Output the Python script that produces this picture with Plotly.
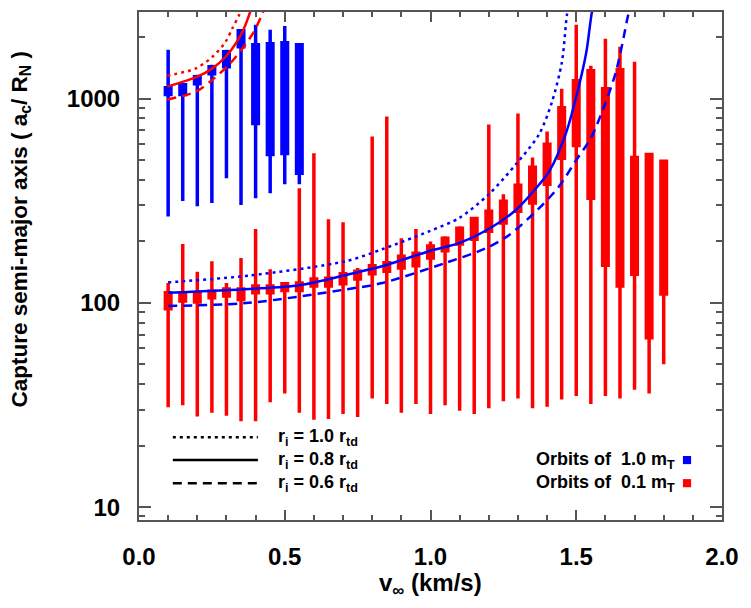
import plotly.graph_objects as go

# ---------------- data ----------------
# Orbits of 1.0 m_T (blue boxes)
blue_x = [0.10, 0.15, 0.20, 0.25, 0.30, 0.35, 0.40, 0.45, 0.50, 0.55]
blue_lo = [265, 315, 297, 308, 407, 301, 325, 344, 381, 381]
blue_q1 = [1046, 1046, 1183, 1324, 1433, 1794, 755, 533, 539, 431]
blue_q3 = [1131, 1170, 1280, 1433, 1694, 2150, 1834, 1855, 1877, 1834]
blue_hi = [1734, 1180, 1310, 1465, 1734, 2173, 2296, 2173, 2270, 1834]

# Orbits of 0.1 m_T (red boxes)
red_x = [0.10, 0.15, 0.20, 0.25, 0.30, 0.35, 0.40, 0.45, 0.50, 0.55,
         0.60, 0.65, 0.70, 0.75, 0.80, 0.85, 0.90, 0.95, 1.00, 1.05,
         1.10, 1.15, 1.20, 1.25, 1.30, 1.35, 1.40, 1.45, 1.50, 1.55,
         1.60, 1.65, 1.70, 1.75, 1.80]
red_hi = [125, 194, 142, 160, 125, 166, 230, 146, 125, 364,
          540, 257, 248, 148, 653, 817, 207, 230, 200, 212,
          237, 262, 747, 340, 845, 515, 690, 1119, 2297, 1450,
          1963, 1795, 1515, 533, 493]
red_q3 = [112, 112, 112, 114, 117, 117, 121, 121, 124, 125,
          131, 132, 139, 143, 152, 157, 169, 175, 190, 207,
          232, 259, 281, 314, 377, 461, 597, 903, 1224, 1370,
          1119, 1385, 515, 533, 493]
red_q1 = [93.5, 102, 101, 106, 108, 104, 112, 112, 115, 115,
          121, 121, 124, 131, 139, 143, 148, 152, 166, 180,
          194, 205, 224, 246, 281, 308, 381, 510, 590, 325,
          153, 121, 138, 67.5, 110.6]
red_lo = [30.8, 31.5, 27.8, 29, 28, 26.3, 26.3, 32.6, 36, 29,
          26.8, 27, 28.6, 27.6, 34, 32, 29, 32, 28.6, 31.5,
          29.6, 28.6, 30.5, 33, 34, 30.5, 31, 33.6, 35, 32,
          35, 34, 37.6, 36, 50]

# Red curves (upper left)
red_dot_x = [0.097, 0.195, 0.252, 0.297, 0.320, 0.343, 0.352]
red_dot_y = [1295, 1406, 1603, 1896, 2203, 2560, 2800]
red_sol_x = [0.097, 0.200, 0.252, 0.297, 0.332, 0.360, 0.385]
red_sol_y = [1144, 1280, 1406, 1603, 1862, 2203, 2750]
red_dsh_x = [0.097, 0.195, 0.252, 0.309, 0.354, 0.394, 0.423, 0.432]
red_dsh_y = [989, 1081, 1238, 1466, 1755, 2122, 2600, 2800]

# Blue curves
blue_dot_x = [0.10, 0.377, 0.71, 0.834, 0.995, 1.098, 1.20, 1.293, 1.372, 1.417, 1.451, 1.468, 1.474]
blue_dot_y = [126, 136, 160, 183, 224, 260, 340, 477, 667, 966, 1514, 2570, 2800]
blue_sol_x = [0.10, 0.38, 0.55, 0.72, 0.834, 0.995, 1.098, 1.20, 1.293, 1.348, 1.407, 1.465, 1.509, 1.535, 1.554, 1.56]
blue_sol_y = [112, 117, 122, 138, 151, 179, 196, 230, 285, 345, 440, 680, 1150, 1700, 2655, 2800]
blue_dsh_x = [0.10, 0.377, 0.72, 0.834, 1.052, 1.19, 1.27, 1.372, 1.44, 1.50, 1.55, 1.60, 1.636, 1.658, 1.675, 1.685]
blue_dsh_y = [96.6, 100, 117, 125, 157, 185, 215, 290, 370, 500, 640, 950, 1350, 1850, 2450, 2800]

legend_lines = ["r<sub>i</sub> = 1.0 r<sub>td</sub>",
                "r<sub>i</sub> = 0.8 r<sub>td</sub>",
                "r<sub>i</sub> = 0.6 r<sub>td</sub>"]
legend_orbits = ["Orbits of  1.0 m<sub>T</sub>", "Orbits of  0.1 m<sub>T</sub>"]

y_ticks = [10, 100, 1000]
y_minor = [9] + [k * 10 for k in range(2, 10)] + [k * 100 for k in range(2, 10)] + [2000]

BLUE = "rgb(0,0,255)"
RED = "rgb(255,0,0)"
FONT = "Liberation Sans, Arial, sans-serif"

fig = go.Figure()

fig.add_trace(go.Box(x=blue_x, q1=blue_q1, median=blue_q1, q3=blue_q3,
                     lowerfence=blue_lo, upperfence=blue_hi,
                     width=0.019, whiskerwidth=0, boxpoints=False,
                     line=dict(color=BLUE, width=3.5), fillcolor=BLUE,
                     hoverinfo="skip", showlegend=False))
fig.add_trace(go.Box(x=red_x, q1=red_q1, median=red_q1, q3=red_q3,
                     lowerfence=red_lo, upperfence=red_hi,
                     width=0.019, whiskerwidth=0, boxpoints=False,
                     line=dict(color=RED, width=3.5), fillcolor=RED,
                     hoverinfo="skip", showlegend=False))

DOT = "3px,4px"
DASH = "9px,6px"
for xs, ys, col, dash in [
    (red_dot_x, red_dot_y, RED, DOT),
    (red_sol_x, red_sol_y, RED, "solid"),
    (red_dsh_x, red_dsh_y, RED, DASH),
    (blue_dot_x, blue_dot_y, BLUE, DOT),
    (blue_sol_x, blue_sol_y, BLUE, "solid"),
    (blue_dsh_x, blue_dsh_y, BLUE, DASH),
]:
    fig.add_trace(go.Scatter(x=xs, y=ys, mode="lines",
                             line=dict(color=col, width=2.5, dash=dash, shape="spline", smoothing=0.8),
                             hoverinfo="skip", showlegend=False))

axis_common = dict(showline=True, linecolor="#555555", linewidth=2, mirror="allticks",
                   ticks="inside", tickcolor="#555555", tickwidth=2,
                   showgrid=False, zeroline=False,
                   tickfont=dict(family=FONT, size=24, color="black", weight="bold"))

fig.update_xaxes(range=[0, 2.0], tickmode="array", tickvals=[0, 0.5, 1.0, 1.5, 2.0],
                 ticktext=["0.0", "0.5", "1.0", "1.5", "2.0"], ticklen=10,
                 minor=dict(dtick=0.1, ticklen=5, ticks="inside", tickcolor="#555555", tickwidth=2),
                 ticklabelstandoff=14, **axis_common)
fig.update_yaxes(type="log", range=[0.937, 3.424], tickmode="array", tickvals=y_ticks,
                 ticktext=[str(v) for v in y_ticks], ticklen=12,
                 minor=dict(tickmode="array", tickvals=y_minor, ticklen=6, ticks="inside",
                            tickcolor="#555555", tickwidth=2),
                 ticklabelstandoff=12, **axis_common)

# left legend (line styles)
row_y = [0.163, 0.118, 0.0725]
for ry, dash, label in zip(row_y, [DOT, "solid", DASH], legend_lines):
    fig.add_shape(type="line", xref="paper", yref="paper", x0=0.058, x1=0.204, y0=ry, y1=ry,
                  line=dict(color="black", width=2.5, dash=dash))
    fig.add_annotation(xref="paper", yref="paper", x=0.235, y=ry, xanchor="left", yanchor="middle",
                       text=label, showarrow=False,
                       font=dict(family=FONT, size=18, color="black", weight="bold"))

# right legend (data sets)
for ry, col, label in zip(row_y[1:], [BLUE, RED], legend_orbits):
    fig.add_annotation(xref="paper", yref="paper", x=0.922, y=ry, xanchor="right", yanchor="middle",
                       text=label, showarrow=False,
                       font=dict(family=FONT, size=18, color="black", weight="bold"))
    fig.add_shape(type="rect", xref="paper", yref="paper", x0=0.933, x1=0.947,
                  y0=ry - 0.008, y1=ry + 0.008, line=dict(width=0), fillcolor=col)

# axis titles
fig.add_annotation(xref="paper", yref="paper", x=-0.203, y=0.573, xanchor="center", yanchor="middle",
                   textangle=-90, showarrow=False,
                   text="Capture semi-major axis ( a<sub>c</sub>/ R<sub>N</sub> )",
                   font=dict(family=FONT, size=22.5, color="black", weight="bold"))
fig.add_annotation(xref="paper", yref="paper", x=0.5, y=-0.127, xanchor="center", yanchor="middle",
                   showarrow=False, text="v<sub>∞</sub> (km/s)",
                   font=dict(family=FONT, size=24, color="black", weight="bold"))

fig.update_layout(width=751, height=608, margin=dict(l=131, r=37, t=2, b=96),
                  paper_bgcolor="white", plot_bgcolor="white", boxmode="overlay",
                  showlegend=False)

fig.write_html("out.html")
